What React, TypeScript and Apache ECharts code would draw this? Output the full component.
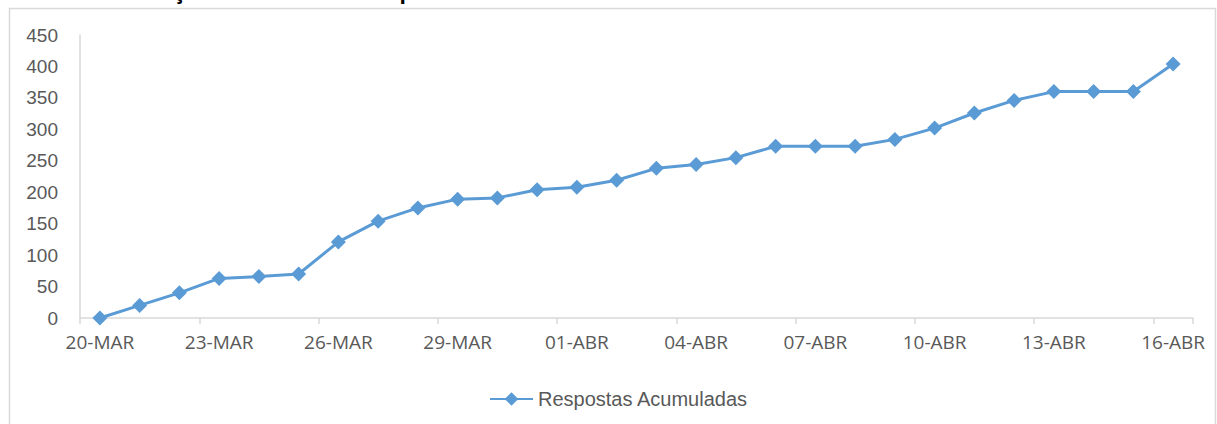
import React, { useEffect, useRef } from "react";
import * as echarts from "echarts";

const categories: string[] = [
  "20-MAR", "21-MAR", "22-MAR", "23-MAR", "24-MAR", "25-MAR", "26-MAR",
  "27-MAR", "28-MAR", "29-MAR", "30-MAR", "31-MAR", "01-ABR", "02-ABR",
  "03-ABR", "04-ABR", "05-ABR", "06-ABR", "07-ABR", "08-ABR", "09-ABR",
  "10-ABR", "11-ABR", "12-ABR", "13-ABR", "14-ABR", "15-ABR", "16-ABR",
];

const respostas: number[] = [
  0, 20, 40, 63, 66, 70, 121, 154, 175, 189, 191, 204, 208, 219,
  238, 244, 255, 273, 273, 273, 284, 302, 326, 346, 360, 360, 360, 404,
];

const seriesName = "Respostas Acumuladas";
const titleText = "Gráfico 1 – Evolução do número de respondentes";

export default function App() {
  const ref = useRef<HTMLDivElement>(null);
  useEffect(() => {
    if (!ref.current) return;
    const chart = echarts.init(ref.current, undefined, { renderer: "svg" });
    const font = "'Liberation Sans', Arial, sans-serif";
    chart.setOption({
      animation: false,
      backgroundColor: "#ffffff",
      textStyle: { fontFamily: font },
      graphic: [
        {
          type: "rect",
          shape: { x: 9.5, y: 8.5, width: 1206, height: 430 },
          style: { fill: "none", stroke: "#d9d9d9", lineWidth: 1.5 },
          silent: true,
        },
        {
          type: "text",
          x: 2,
          y: 1.5,
          style: {
            text: titleText,
            fontSize: 21,
            fontWeight: "bold",
            fill: "#000000",
            fontFamily: "'Open Sans', sans-serif",
            verticalAlign: "bottom",
            align: "left",
          },
        },
      ],
      grid: { left: 80, right: 24, top: 35, bottom: 106, containLabel: false },
      legend: {
        left: 484,
        top: 384,
        itemWidth: 43,
        itemHeight: 17,
        itemGap: 5,
        textStyle: { color: "#595959", fontSize: 20, fontFamily: font },
        data: [seriesName],
      },
      xAxis: {
        type: "category",
        data: categories,
        boundaryGap: true,
        axisLine: { show: true, lineStyle: { color: "#d9d9d9", width: 1.5 } },
        axisTick: { show: true, interval: 2, length: 6, lineStyle: { color: "#d9d9d9", width: 1.5 } },
        axisLabel: {
          interval: 2,
          color: "#595959",
          fontSize: 19,
          margin: 14,
          fontFamily: "'Open Sans', sans-serif",
        },
        splitLine: { show: false },
      },
      yAxis: {
        type: "value",
        min: 0,
        max: 450,
        interval: 50,
        axisLine: { show: true, lineStyle: { color: "#d9d9d9", width: 1.5 } },
        axisTick: { show: false },
        axisLabel: { color: "#595959", fontSize: 19, margin: 22, fontFamily: font },
        splitLine: { show: false },
      },
      series: [
        {
          name: seriesName,
          type: "line",
          data: respostas,
          symbol: "diamond",
          symbolSize: 15,
          itemStyle: { color: "#5b9bd5" },
          lineStyle: { color: "#5b9bd5", width: 3 },
        },
      ],
    });
    return () => chart.dispose();
  }, []);
  return <div ref={ref} style={{ width: 1217, height: 424, position: "absolute", left: 0, top: 0 }} />;
}
